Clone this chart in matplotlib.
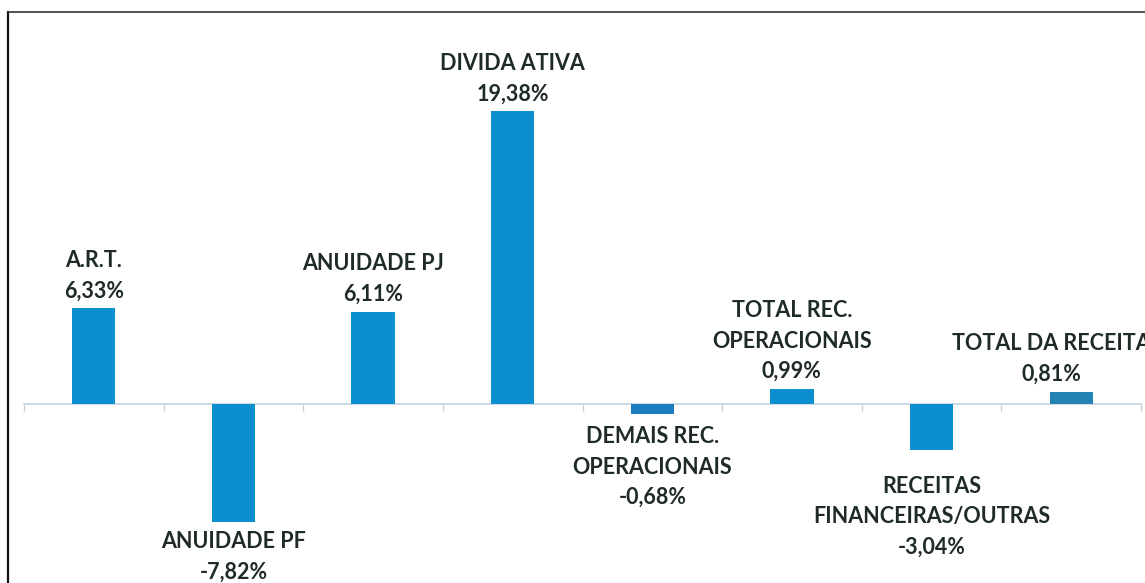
import matplotlib
matplotlib.use('agg')
import matplotlib.pyplot as plt
import matplotlib.lines as mlines

# data (variation %)
categories = ["A.R.T.", "ANUIDADE PF", "ANUIDADE PJ", "DIVIDA ATIVA",
              "DEMAIS REC.\nOPERACIONAIS", "TOTAL REC.\nOPERACIONAIS",
              "RECEITAS\nFINANCEIRAS/OUTRAS", "TOTAL DA RECEITA"]
values = [6.33, -7.82, 6.11, 19.38, -0.68, 0.99, -3.04, 0.81]

# styling
bar_colors = ['#0b8fcf', '#0b8fcf', '#0b8fcf', '#0b8fcf',
              '#1a7dbd', '#0b8fcf', '#0b8fcf', '#2383b5']
label_gap = [7, -9, 7, 7, -12, 7, -26, 7]   # pixels between bar end and label
label_dx = [0, 0, 0, 0, 0, 0, 0, -20]        # horizontal nudge of labels (px)
text_color = '#1e2b28'

W, H = 1145, 583
fig = plt.figure(figsize=(W / 100, H / 100), dpi=100)
fig.patch.set_facecolor('white')

# axis spans the category band; baseline (0) sits at y=404px, ~15.1 px per %
ax = fig.add_axes([24 / W, 0, 1117 / W, 1])
px_per_unit = 15.1
ax.set_ylim(-(H - 404) / px_per_unit, 404 / px_per_unit)
ax.set_xlim(-0.5, len(values) - 0.5)
ax.set_facecolor('none')

x = list(range(len(values)))
ax.bar(x, values, width=0.31, color=bar_colors, zorder=3)

for sp in ['top', 'right', 'left']:
    ax.spines[sp].set_visible(False)
ax.spines['bottom'].set_position(('data', 0))
ax.spines['bottom'].set_color('#c5d3e0')
ax.spines['bottom'].set_linewidth(1.2)
ax.set_xticks([i - 0.5 for i in range(len(values) + 1)])
ax.set_xticklabels([])
ax.tick_params(axis='x', direction='out', length=5, color='#c5d3e0', width=1)
ax.set_yticks([])

for xi, v, cat, gap, dx in zip(x, values, categories, label_gap, label_dx):
    txt = cat + "\n" + ("%.2f%%" % v).replace('.', ',')
    ax.annotate(txt, xy=(xi, v), xytext=(dx, gap), textcoords='offset pixels',
                ha='center', va='bottom' if gap > 0 else 'top',
                fontsize=15.5, fontweight='bold', family=['Lato', 'DejaVu Sans'],
                color=text_color, linespacing=1.55, annotation_clip=False, zorder=4)

# frame lines of the cropped chart area
fig.add_artist(mlines.Line2D([8 / W, 8 / W], [0, 1 - 12 / H], color='#111111', lw=1.6))
fig.add_artist(mlines.Line2D([8 / W, 1], [1 - 12 / H, 1 - 12 / H], color='#333333', lw=1.2))

fig.savefig('out.png', dpi=100)
